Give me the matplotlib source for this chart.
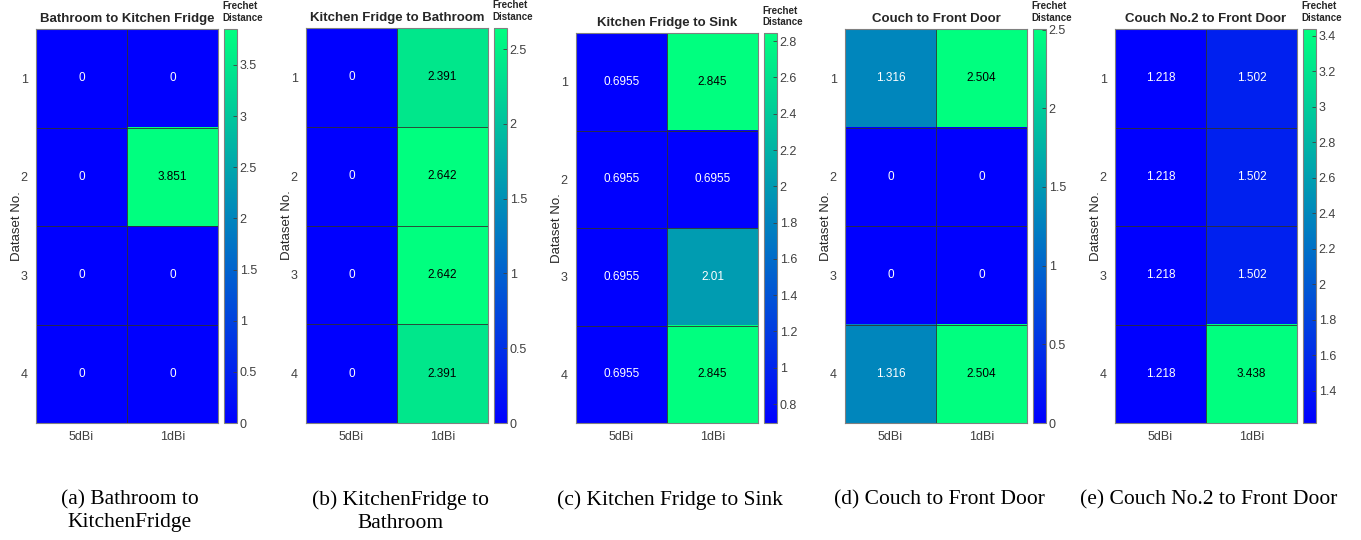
import numpy as np
import matplotlib.pyplot as plt
from matplotlib.ticker import FormatStrFormatter, MultipleLocator

plt.rcParams['font.family'] = ['Liberation Sans', 'DejaVu Sans']

antennas = ['5dBi', '1dBi']
datasets = ['1', '2', '3', '4']

titles = ['Bathroom to Kitchen Fridge', 'Kitchen Fridge to Bathroom',
          'Kitchen Fridge to Sink', 'Couch to Front Door',
          'Couch No.2 to Front Door']
captions = ['(a) Bathroom to\nKitchenFridge', '(b) KitchenFridge to\nBathroom',
            '(c) Kitchen Fridge to Sink', '(d) Couch to Front Door',
            '(e) Couch No.2 to Front Door']

# rows = dataset no., columns = antenna
bath_fridge = [[0, 0], [0, 3.851], [0, 0], [0, 0]]
fridge_bath = [[0, 2.391], [0, 2.642], [0, 2.642], [0, 2.391]]
fridge_sink = [[0.6955, 2.845], [0.6955, 0.6955], [0.6955, 2.01], [0.6955, 2.845]]
couch_door = [[1.316, 2.504], [0, 0], [0, 0], [1.316, 2.504]]
couch2_door = [[1.218, 1.502], [1.218, 1.502], [1.218, 1.502], [1.218, 3.438]]

tables = [bath_fridge, fridge_bath, fridge_sink, couch_door, couch2_door]
cbar_steps = [0.5, 0.5, 0.2, 0.5, 0.2]

W, H = 1361, 540
fig = plt.figure(figsize=(W / 100, H / 100), dpi=100)
cmap = plt.get_cmap('winter')

lefts = [36, 306, 576, 845, 1115]
tops = [29, 28, 33, 29, 29]
bottom_px = 423
ax_w = 182

for i, data in enumerate(tables):
    data = np.array(data, dtype=float)
    vmin, vmax = data.min(), data.max()
    left, top = lefts[i], tops[i]
    ax = fig.add_axes([left / W, 1 - bottom_px / H, ax_w / W, (bottom_px - top) / H])
    im = ax.imshow(data, cmap=cmap, vmin=vmin, vmax=vmax, aspect='auto',
                   interpolation='nearest')
    # cell borders
    for r in range(1, data.shape[0]):
        ax.axhline(r - 0.5, color='#303030', lw=0.6)
    ax.axvline(0.5, color='#303030', lw=0.6)
    for r in range(data.shape[0]):
        for c in range(data.shape[1]):
            v = data[r, c]
            rgb = cmap((v - vmin) / (vmax - vmin))
            lum = 0.299 * rgb[0] + 0.587 * rgb[1] + 0.114 * rgb[2]
            ax.text(c, r, '%.4g' % v, ha='center', va='center', fontsize=8.5,
                    color='black' if lum > 0.5 else 'white')
    ax.set_xticks(range(len(antennas)))
    ax.set_xticklabels(antennas)
    ax.set_yticks(range(len(datasets)))
    ax.set_yticklabels(datasets)
    ax.tick_params(length=0, labelsize=9, colors='#404040', pad=6)
    ax.set_ylabel('Dataset No.', fontsize=9.5, color='#262626', labelpad=-1.5)
    ax.set_title(titles[i], fontsize=9.5, fontweight='bold', color='#262626', pad=5)
    for sp in ax.spines.values():
        sp.set_color('#808080')
        sp.set_linewidth(0.8)

    cax = fig.add_axes([(left + ax_w + 6) / W, 1 - bottom_px / H, 13 / W,
                        (bottom_px - top) / H])
    cb = fig.colorbar(im, cax=cax)
    cb.locator = MultipleLocator(cbar_steps[i])
    cb.formatter = FormatStrFormatter('%g')
    cb.update_ticks()
    cb.outline.set_edgecolor('#808080')
    cb.outline.set_linewidth(0.8)
    cax.tick_params(direction='in', length=3, width=0.6, labelsize=9,
                    colors='#404040', pad=2)
    cax.text(-0.1, 1.015, 'Frechet\nDistance', transform=cax.transAxes,
             ha='left', va='bottom', fontsize=7, fontweight='bold',
             color='#262626', linespacing=1.2)

    fig.text((left + ax_w / 2 + 3) / W, 1 - 490 / H, captions[i], ha='center',
             va='top', fontsize=15.5, family=['Liberation Serif', 'DejaVu Serif'],
             linespacing=1.3)

fig.savefig('out.png', dpi=100)
